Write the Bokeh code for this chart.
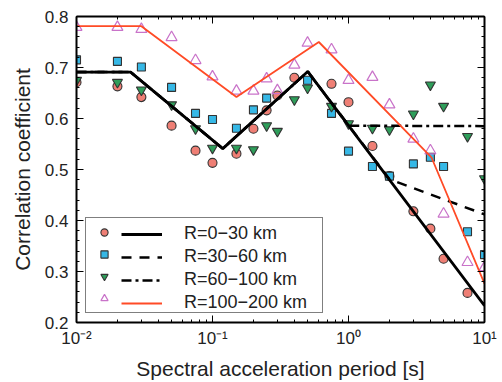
import math
from bokeh.plotting import figure
from bokeh.models import (Legend, LegendItem, LogAxis, LinearAxis, LogTicker,
                          SingleIntervalTicker, CustomJSTickFormatter, Range1d)
from bokeh.embed import file_html
from bokeh.resources import INLINE

nan = float("nan")

# ---- data -------------------------------------------------------------
periods = [0.01, 0.02, 0.03, 0.05, 0.075, 0.1, 0.15, 0.2, 0.25, 0.3, 0.4,
           0.5, 0.75, 1.0, 1.5, 2.0, 3.0, 4.0, 5.0, 7.5, 10.0]
r0_30 = [0.671, 0.663, 0.642, 0.586, 0.537, 0.513, 0.531, 0.580, 0.616, 0.645, 0.680,
         nan, 0.668, 0.632, 0.546, 0.487, 0.418, 0.384, 0.325, 0.258, nan]
r30_60 = [0.715, 0.712, 0.701, 0.661, 0.610, 0.598, 0.581, 0.617, 0.640, nan, nan,
          0.675, 0.610, 0.536, 0.506, 0.487, 0.511, 0.524, 0.506, 0.378, 0.333]
r60_100 = [0.675, 0.671, 0.656, 0.627, 0.580, 0.542, 0.542, 0.539, 0.586, 0.575, 0.637,
           0.660, 0.624, 0.590, 0.581, 0.578, 0.609, 0.666, 0.624, 0.565, 0.482]
r100_200 = [0.779, 0.779, 0.775, 0.759, 0.714, 0.682, 0.654, 0.654, 0.678, 0.655, 0.705,
            0.748, 0.735, 0.675, 0.681, 0.627, 0.560, 0.537, 0.413, 0.318, 0.308]

fit_T_a = [0.01, 0.025, 0.119, 0.502, 10.0]
fit_a = [0.691, 0.691, 0.541, 0.692, 0.233]
fit_T_b = [0.01, 0.025, 0.119, 0.502, 2.0, 10.0]
fit_b = [0.691, 0.691, 0.541, 0.692, 0.481, 0.412]
fit_T_c = [0.01, 0.025, 0.119, 0.502, 1.0, 10.0]
fit_c = [0.691, 0.691, 0.541, 0.692, 0.586, 0.585]
fit_T_d = [0.01, 0.030, 0.150, 0.605, 4.07, 10.0]
fit_d = [0.781, 0.781, 0.642, 0.750, 0.524, 0.276]

labels = ["R=0\u221230 km", "R=30\u221260 km", "R=60\u2212100 km", "R=100\u2212200 km"]

# ---- figure -----------------------------------------------------------
FONT = "Liberation Sans"
p = figure(width=502, height=382, x_axis_type="log",
           x_range=Range1d(0.01, 10), y_range=Range1d(0.2, 0.8),
           output_backend="svg", toolbar_location=None,
           min_border_left=76, min_border_right=18, min_border_top=16,
           min_border_bottom=60)
p.outline_line_color = None
p.xgrid.visible = False
p.ygrid.visible = False
p.background_fill_color = "white"

xticker = LogTicker(num_minor_ticks=10)
yticker = SingleIntervalTicker(interval=0.1, num_minor_ticks=5)

fmt = CustomJSTickFormatter(code="""
const sup = {'-':'\u207b','0':'\u2070','1':'\u00b9','2':'\u00b2','3':'\u00b3'};
const e = Math.round(Math.log10(tick));
return '10' + String(e).split('').map(c => sup[c]).join('');
""")

def style_axis(ax, show_labels):
    ax.axis_line_width = 2
    ax.axis_line_color = "black"
    ax.major_tick_in = 7
    ax.major_tick_out = 0
    ax.minor_tick_in = 3
    ax.minor_tick_out = 0
    ax.major_tick_line_color = "black"
    ax.minor_tick_line_color = "black"
    ax.major_tick_line_width = 1
    ax.minor_tick_line_width = 1
    if show_labels:
        ax.major_label_text_font = FONT
        ax.major_label_text_font_size = "17px"
        ax.major_label_text_color = "#222222"
        ax.axis_label_text_font = FONT
        ax.axis_label_text_font_style = "normal"
        ax.axis_label_text_font_size = "21px"
        ax.axis_label_text_color = "#222222"
    else:
        ax.major_label_text_font_size = "6px"
        ax.major_label_text_alpha = 0
        ax.major_label_standoff = 0

xa = p.xaxis[0]
xa.ticker = xticker
xa.formatter = fmt
xa.axis_label = "Spectral acceleration period [s]"
style_axis(xa, True)
xa.major_label_standoff = 6
xa.axis_label_standoff = 6

ya = p.yaxis[0]
ya.ticker = yticker
ya.axis_label = "Correlation coefficient"
style_axis(ya, True)
ya.major_label_standoff = 8
ya.axis_label_standoff = 8

top = LogAxis(ticker=xticker)
style_axis(top, False)
p.add_layout(top, "above")
right = LinearAxis(ticker=yticker)
style_axis(right, False)
p.add_layout(right, "right")

# ---- markers ------------------------------------------------------------
EDGE = "#333333"
s1 = p.scatter(periods, r0_30, marker="circle", size=9, fill_color="#EF7F75",
               line_color=EDGE, line_width=1.1)
s2 = p.scatter(periods, r30_60, marker="square", size=8, fill_color="#36B8E6",
               line_color=EDGE, line_width=1.1)
s3 = p.scatter(periods, r60_100, marker="inverted_triangle", size=10, fill_color="#2E9E5A",
               line_color=EDGE, line_width=1.1)
s4 = p.scatter(periods, r100_200, marker="triangle", size=11, fill_color=None,
               line_color="#C973C9", line_width=1.2)

# ---- model lines --------------------------------------------------------
l2 = p.line(fit_T_b, fit_b, line_color="black", line_width=2.5, line_dash="10 8")
l3 = p.line(fit_T_c, fit_c, line_color="black", line_width=2.5, line_dash="10 4 3 4")
l1 = p.line(fit_T_a, fit_a, line_color="black", line_width=2.8)
l4 = p.line(fit_T_d, fit_d, line_color="#FF4B26", line_width=1.8)

# ---- legend: markers column (with frame) + lines/labels column ---------
leg_m = Legend(items=[LegendItem(label="\u00a0", renderers=[r]) for r in (s1, s2, s3, s4)],
               location=(9, 9), orientation="vertical", padding=4, margin=0,
               spacing=2, glyph_width=28, glyph_height=18, label_height=20,
               label_standoff=0, label_width=200,
               label_text_font=FONT, label_text_font_size="15px",
               border_line_color="black", border_line_width=1.5,
               background_fill_color="white", background_fill_alpha=1.0)
leg_l = Legend(items=[LegendItem(label=t, renderers=[r]) for t, r in zip(labels, (l1, l2, l3, l4))],
               location=(45, 9), orientation="vertical", padding=4, margin=0,
               spacing=2, glyph_width=41, glyph_height=20, label_height=20,
               label_standoff=22,
               label_text_font=FONT, label_text_font_size="18px",
               label_text_color="#222222",
               border_line_color=None, background_fill_alpha=0.0)
p.add_layout(leg_m, "center")
p.add_layout(leg_l, "center")

open("out.html", "w").write(file_html(p, INLINE))
